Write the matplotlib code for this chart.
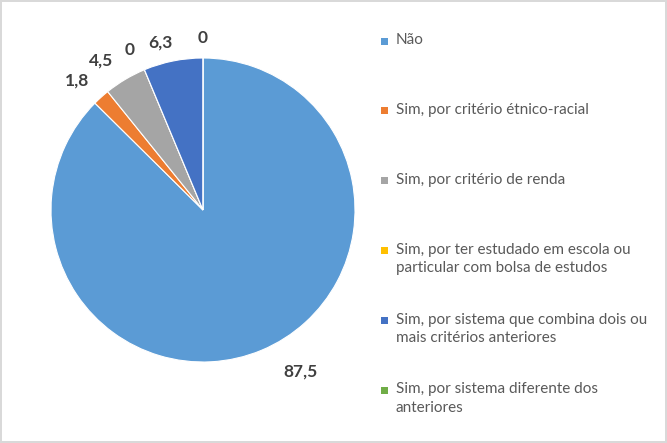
import numpy as np
import matplotlib
matplotlib.use("Agg")
import matplotlib.pyplot as plt
from matplotlib.patches import Rectangle

# data
categories = [
    "Não",
    "Sim, por critério étnico-racial",
    "Sim, por critério de renda",
    "Sim, por ter estudado em escola ou\nparticular com bolsa de estudos",
    "Sim, por sistema que combina dois ou\nmais critérios anteriores",
    "Sim, por sistema diferente dos\nanteriores",
]
values = [87.5, 1.8, 4.5, 0, 6.3, 0]
colors = ["#5B9BD5", "#ED7D31", "#A5A5A5", "#FFC000", "#4472C4", "#70AD47"]

# label placement (distance in radii, angle shift in degrees)
label_dist = [1.24, 1.19, 1.19, 1.16, 1.14, 1.13]
label_shift = [8.5, 2, 3.5, 2, 3, 0]

plt.rcParams['font.family'] = ['Lato', 'DejaVu Sans']

fig = plt.figure(figsize=(6.67, 4.43), dpi=100)
fig.patch.set_edgecolor('#D9D9D9')
fig.patch.set_linewidth(1.5)

W, H = 667, 443
cx, cy, r = 203, 210, 152
ax = fig.add_axes([(cx - r) / W, (H - cy - r) / H, 2 * r / W, 2 * r / H])

wedges, _ = ax.pie(values, colors=colors, startangle=90, counterclock=False,
                   radius=1, wedgeprops=dict(edgecolor='white', linewidth=0.8))
ax.set_xlim(-1, 1)
ax.set_ylim(-1, 1)
ax.set_aspect('equal')
ax.axis('off')

for w, v, d, s in zip(wedges, values, label_dist, label_shift):
    ang = np.deg2rad((w.theta1 + w.theta2) / 2 + s)
    txt = f"{v:g}".replace('.', ',')
    ax.text(d * np.cos(ang), d * np.sin(ang), txt, ha='center', va='center',
            fontsize=12.5, fontweight='bold', color='#404040', clip_on=False)

# legend, marker aligned with the first line of each entry
leg_top, leg_step = 41, 69.8
for i, (lab, c) in enumerate(zip(categories, colors)):
    y = leg_top + i * leg_step
    fig.add_artist(Rectangle((381 / W, 1 - (y + 3.5) / H), 7 / W, 7 / H,
                             transform=fig.transFigure, facecolor=c,
                             edgecolor='none'))
    fig.text(396 / W, 1 - (y - 7.5) / H, lab, ha='left', va='top',
             fontsize=11, color='#595959', linespacing=1.4)

fig.savefig('out.png', dpi=100)
